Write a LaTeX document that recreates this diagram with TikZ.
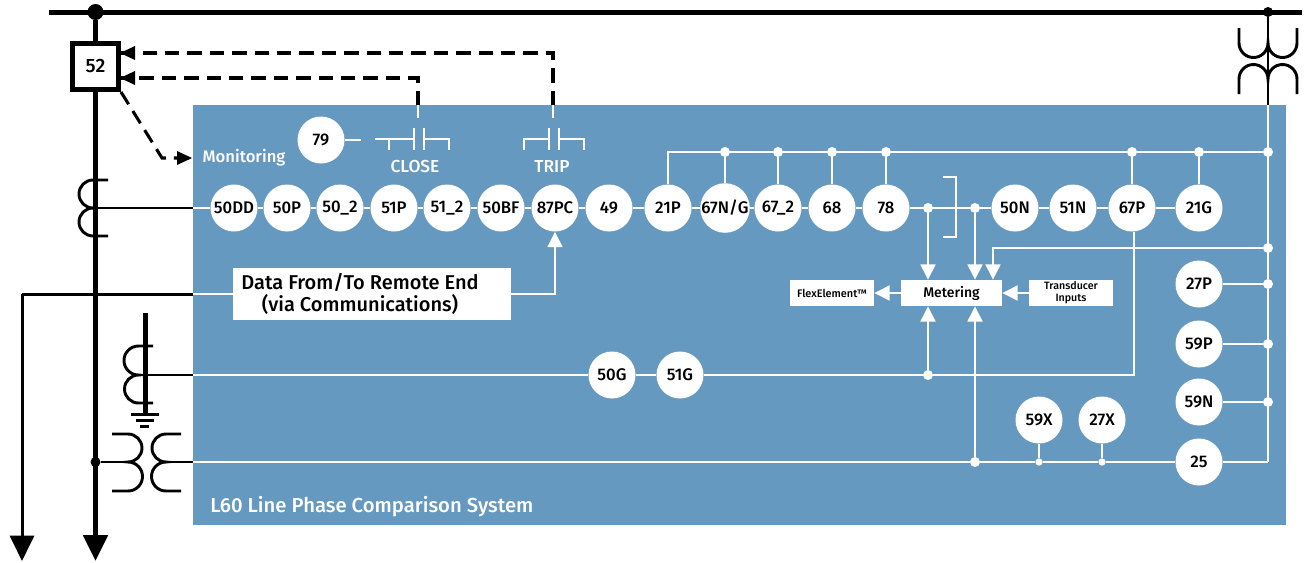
\documentclass[tikz,border=0pt]{standalone}
\usepackage{fontspec}
\setmainfont{Fira Sans}[UprightFont=* Medium]
\usetikzlibrary{arrows.meta,calc}
\definecolor{panel}{HTML}{6699BF}
\tikzset{
  relay/.style={circle,fill=white,minimum size=35.25pt,inner sep=0pt,font=\fontsize{12.6}{13}\selectfont,text=black},
  wire/.style={draw=white,line width=2.05pt},
  blk/.style={draw=black,line width=2.2pt},
  thick main/.style={draw=black,line width=3.75pt},
  dashwire/.style={draw=black,line width=2.3pt,dash pattern=on 10.8pt off 6pt},
  wdot/.style={circle,fill=white,minimum size=7.5pt,inner sep=0pt},
  sdot/.style={circle,fill=white,minimum size=5.5pt,inner sep=0pt},
  bdot/.style={circle,fill=black,minimum size=7.5pt,inner sep=0pt},
  wbox/.style={fill=white,inner sep=0pt,text=black},
  warrow/.style={-{Triangle[length=11.5pt,width=11pt]}},
  ptext/.style={text=white,font=\fontsize{12.5}{14}\selectfont,inner sep=0pt},
}
\begin{document}
\begin{tikzpicture}[x=0.75pt,y=-0.75pt]
\useasboundingbox (0,0) rectangle (1304,562);
\fill[panel] (193,105) rectangle (1286,525);

% relay row
\foreach \n/\t/\x in {n50DD/50DD/234,n50P/50P/287,n502/50\_2/340,n51P/51P/394,n512/51\_2/447,n50BF/50BF/501,n87PC/87PC/555,n49/49/609,n21P/21P/668,n67NG/67N\slash G/725,n672/67\_2/778,n68/68/832,n78/78/886,n50N/50N/1015,n51N/51N/1073,n67P/67P/1132,n21G/21G/1199}
  \node[relay] (\n) at (\x,208) {\t};
\node[relay] (n79) at (321,140) {79};
\node[relay] (n27P) at (1199,284) {27P};
\node[relay] (n59P) at (1199,344) {59P};
\node[relay] (n59N) at (1199,402) {59N};
\node[relay] (n25) at (1199,462) {25};
\node[relay] (n59X) at (1039,420) {59X};
\node[relay] (n27X) at (1102,420) {27X};
\node[relay] (n50G) at (612,375) {50G};
\node[relay] (n51G) at (680,375) {51G};

% boxes
\node[wbox,minimum width=75.75pt,minimum height=19.5pt,font=\fontsize{10.5}{12}\selectfont] (metering) at (951.5,293) {Metering};
\node[wbox,minimum width=63pt,minimum height=19.5pt,font=\fontsize{8.2}{10}\selectfont] (flex) at (832,293) {FlexElement™};
\node[wbox,minimum width=63pt,minimum height=19.5pt,align=center,font=\fontsize{8}{9}\selectfont] (trans) at (1071,293) {Transducer\\Inputs};
\node[wbox,minimum width=208.5pt,minimum height=39pt] (data) at (372,294) {};
\node[inner sep=0pt,align=center,font=\fontsize{15}{16.5}\selectfont,text=black] (datatext) at (360,294) {Data From/To Remote End\\(via Communications)};
\node[draw=black,line width=3.75pt,fill=white,minimum size=34.5pt,inner sep=0pt,font=\fontsize{14.5}{16}\selectfont] (b52) at (95.5,66.5) {52};

% panel labels
\node[ptext] (monitoring) at (244,158) {Monitoring};
\node[ptext,font=\fontsize{13}{14}\selectfont] (closelbl) at (415,167) {CLOSE};
\node[ptext,font=\fontsize{13}{14}\selectfont] (triplbl) at (552,167) {TRIP};
\node[ptext,font=\fontsize{15.2}{16}\selectfont,anchor=west] (title) at (210,507) {L60 Line Phase Comparison System};

% dots
\foreach \n/\x/\y in {dA/725/152,dB/778/152,dC/832/152,dD/886/152,dE/1132/152,dF/1199/152,dG/1268/152,dH/1268/248,dI/1268/284,dJ/1268/344,dK/1268/402,dL/928/208,dM/975/208,dN/928/375,dO/975/462}
  \node[wdot] (\n) at (\x,\y) {};
\node[sdot] (dP) at (1039,462) {};
\node[sdot] (dQ) at (1102,462) {};

% coordinates
\coordinate (busL) at (49,12);
\coordinate (busR) at (1302,12);
\node[circle,fill=black,minimum size=12pt,inner sep=0pt] (busdot) at (95.5,12) {};
\node[bdot] (ptdot) at (1268,12) {};
\node[bdot] (vtdot) at (95.5,462) {};
\coordinate (mainend) at (95.5,561);
\coordinate (thinend) at (22,561);
\coordinate (thincorner) at (22,294);
\coordinate (edgeD) at (193,294);
\coordinate (edgeA) at (193,208);
\coordinate (edgeG) at (193,375);
\coordinate (edgeV) at (193,462);
\coordinate (ctA) at (95.5,208);
\coordinate (ctG) at (145,375);
\coordinate (vtR) at (166,462);
\coordinate (vtL) at (128,462);
\coordinate (topL) at (668,152);
\coordinate (railtop) at (1268,105);
\coordinate (railbot) at (1268,462);
\coordinate (dcorner) at (555,294);
\coordinate (gcorner) at (1134,375);
\coordinate (mcorner) at (993,248);
\coordinate (closestub) at (418,105);
\coordinate (closeend) at (418,118);
\coordinate (tripstub) at (553,105);
\coordinate (tripend) at (553,118);
\coordinate (closeup) at (418,78);
\coordinate (tripup) at (553,53);
\coordinate (montip) at (192,158);
\coordinate (monbend) at (162,158);

% black network
\draw[draw=black,line width=3.75pt] (busL) -- (busR);
\draw[thick main] (busdot) -- (b52);
\draw[thick main,-{Triangle[length=19.5pt,width=18pt]}] (b52) -- (mainend);
\draw[draw=black,line width=2.25pt,-{Triangle[length=19pt,width=18pt]}] (thincorner) -- (thinend);
\draw[draw=black,line width=2.25pt] (edgeD) -- (thincorner);
\draw[blk] (ctA) -- (edgeA);
\draw[blk] (ctG) -- (edgeG);
\draw[blk] (vtdot) -- (vtL);
\draw[blk] (vtR) -- (edgeV);
\draw[draw=black,line width=2.2pt] (ptdot) -- (railtop);
% dashed control
\draw[dashwire] (closestub) -- (closeup) -- (b52.east |- closeup);
\draw[dashwire] (tripstub) -- (tripup) -- (b52.east |- tripup);
\draw[dashwire] (b52.south east) -- (monbend) -- (montip);
\fill[black] (120,53) -- (135,46) -- (135,60) -- cycle;
\fill[black] (120,78) -- (135,71) -- (135,85) -- cycle;
\fill[black] (192,158) -- (177,151) -- (177,165) -- cycle;

% CT line
\draw[blk] (108,180) -- (93,180) arc[start angle=270,end angle=90,radius=14] arc[start angle=270,end angle=90,radius=14] -- (108,236);
% CT ground
\draw[thick main] (145,313) -- (145,414);
\draw[blk] (153,346) -- (138.5,346) arc[start angle=270,end angle=90,radius=14.5] arc[start angle=270,end angle=90,radius=14] -- (153,403);
\draw[draw=black,line width=2.25pt] (131,414) -- (159,414);
\draw[draw=black,line width=2.25pt] (136,420) -- (154,420);
\draw[draw=black,line width=2.25pt] (140,426) -- (149,426);
% VT
\draw[blk] (112,434) -- (128,434) arc[start angle=-90,end angle=90,radius=14] arc[start angle=-90,end angle=90,radius=14.5] -- (112,491);
\draw[blk] (181,434) -- (166,434) arc[start angle=270,end angle=90,radius=14] arc[start angle=270,end angle=90,radius=14.5] -- (181,491);
% PT
\draw[blk] (1239,28) -- (1239,43) arc[start angle=180,end angle=0,radius=14.5] arc[start angle=180,end angle=0,radius=14.5] -- (1297,28);
\draw[blk] (1239,94) -- (1239,79) arc[start angle=180,end angle=360,radius=14.5] arc[start angle=180,end angle=360,radius=14.5] -- (1297,94);

% white network
\draw[wire] (edgeA) -- (n50DD);
\foreach \a/\b in {n50DD/n50P,n50P/n502,n502/n51P,n51P/n512,n512/n50BF,n50BF/n87PC,n87PC/n49,n49/n21P,n21P/n67NG,n67NG/n672,n672/n68,n68/n78,n78/dL,dL/dM,dM/n50N,n50N/n51N,n51N/n67P,n67P/n21G}
  \draw[wire] (\a) -- (\b);
\draw[wire] (edgeD) -- (data);
\draw[wire,warrow] (data.east |- dcorner) -- (dcorner) -- (n87PC.south);
\draw[wire] (edgeG) -- (n50G);
\draw[wire] (n50G) -- (n51G);
\draw[wire] (n51G) -- (dN);
\draw[wire] (dN) -- (gcorner) -- (n67P.south -| gcorner);
\draw[wire] (edgeV) -- (dO);
\draw[wire] (dO) -- (dP);
\draw[wire] (dP) -- (dQ);
\draw[wire] (dQ) -- (n25);
\draw[wire] (n25) -- (railbot);
\draw[wire] (n59X) -- (dP);
\draw[wire] (n27X) -- (dQ);
\draw[wire] (n21P) |- (topL) -- (dA);
\foreach \a/\b in {dA/dB,dB/dC,dC/dD,dD/dE,dE/dF,dF/dG}
  \draw[wire] (\a) -- (\b);
\draw[wire] (dA) -- (n67NG);
\draw[wire] (dB) -- (n672);
\draw[wire] (dC) -- (n68);
\draw[wire] (dD) -- (n78);
\draw[wire] (dE) -- (n67P);
\draw[wire] (dF) -- (n21G);
\draw[wire] (railtop) -- (dG);
\draw[wire] (dG) -- (dH);
\draw[wire] (dH) -- (dI);
\draw[wire] (dI) -- (dJ);
\draw[wire] (dJ) -- (dK);
\draw[wire] (dK) -- (railbot);
\draw[wire] (n27P) -- (dI);
\draw[wire] (n59P) -- (dJ);
\draw[wire] (n59N) -- (dK);
\draw[wire,warrow] (dH) -- (mcorner) -- (mcorner |- metering.north);
\draw[wire,warrow] (dL) -- (dL |- metering.north);
\draw[wire,warrow] (dM) -- (dM |- metering.north);
\draw[wire,warrow] (dN) -- (dN |- metering.south);
\draw[wire,warrow] (dO) -- (dO |- metering.south);
\draw[wire,warrow] (metering) -- (flex);
\draw[wire,warrow] (trans) -- (metering);
\draw[wire] (closestub) -- (closeend);
\draw[wire] (tripstub) -- (tripend);
% contacts
\coordinate (stub79) at (361,140);
\draw[wire] (n79) -- (stub79);
\draw[wire] (375,139) -- (414,139) (389,139) -- (389,150) (414,128) -- (414,150) (424,128) -- (424,150) (424,139) -- (449,139) -- (449,150);
\draw[wire] (524,150) -- (524,139) -- (549,139) (549,128) -- (549,150) (559,128) -- (559,150) (559,139) -- (584,139) -- (584,150);
% bracket
\draw[wire] (943,177) -- (956,177) -- (956,237) -- (943,237);
\end{tikzpicture}
\end{document}
